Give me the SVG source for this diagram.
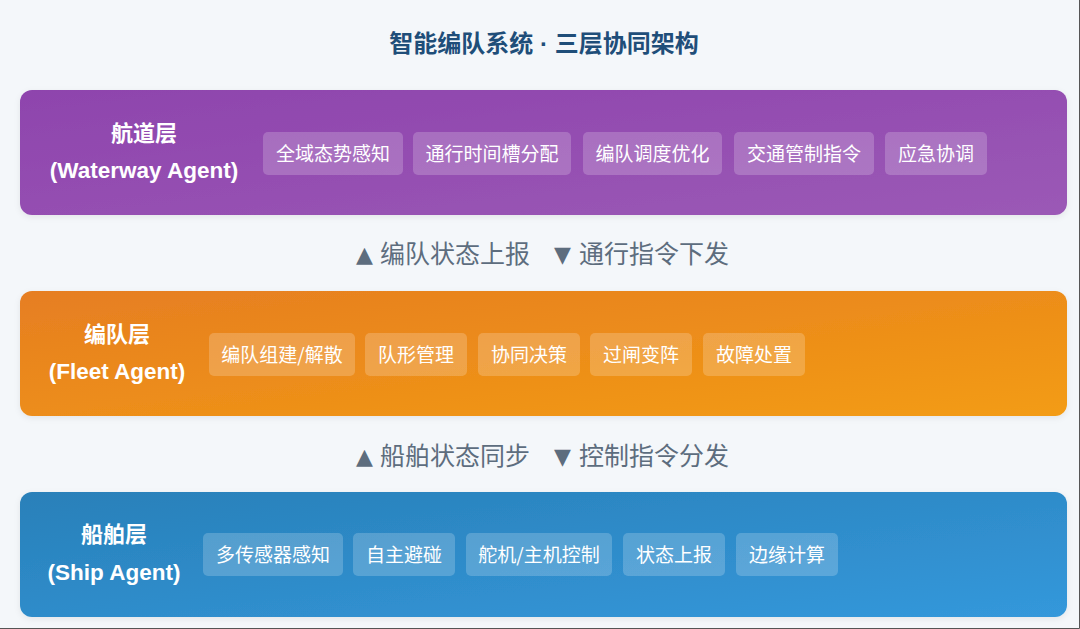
<svg xmlns="http://www.w3.org/2000/svg" width="1080" height="629" viewBox="0 0 1080 629">
<defs>
<linearGradient id="gPurple" x1="0" y1="0" x2="1" y2="1">
<stop offset="0" stop-color="#8e44ad"/><stop offset="1" stop-color="#9b59b6"/>
</linearGradient>
<linearGradient id="gOrange" x1="0" y1="0" x2="1" y2="1">
<stop offset="0" stop-color="#e67e22"/><stop offset="1" stop-color="#f39c12"/>
</linearGradient>
<linearGradient id="gBlue" x1="0" y1="0" x2="1" y2="1">
<stop offset="0" stop-color="#2980b9"/><stop offset="1" stop-color="#3498db"/>
</linearGradient>
<filter id="shadow" x="-5%" y="-10%" width="110%" height="130%">
<feDropShadow dx="0" dy="2" stdDeviation="3" flood-color="#000" flood-opacity="0.07"/>
</filter>
</defs>
<style>
.title{font-family:"Noto Sans CJK SC","Liberation Sans",sans-serif;font-weight:bold;font-size:24px;fill:#1f4e79;text-anchor:middle}
.dot{font-family:"Liberation Sans",sans-serif}
.panel{filter:url(#shadow)}
.chip{fill:#ffffff;fill-opacity:0.2}
.chipText{font-family:"Noto Sans CJK SC",sans-serif;font-size:19px;fill:#ffffff;text-anchor:middle}
.layerCn{font-family:"Noto Sans CJK SC",sans-serif;font-weight:bold;font-size:22px;fill:#ffffff;text-anchor:middle}
.layerEn{font-family:"Liberation Sans","Noto Sans CJK SC",sans-serif;font-weight:bold;font-size:22.5px;fill:#ffffff;text-anchor:middle}
.flow{font-family:"Noto Sans CJK SC",sans-serif;font-size:25px;fill:#5d6d7e}
.tri{font-family:"DejaVu Sans",sans-serif;font-size:22px;fill:#5d6d7e}
</style>
<rect x="0" y="0" width="1080" height="629" fill="#f4f7fa"/>
<text class="title" x="544" y="52">智能编队系统<tspan class="dot"> · </tspan>三层协同架构</text>

<g id="waterway-layer">
<rect class="panel" x="20" y="90" width="1047" height="125" rx="12" fill="url(#gPurple)"/>
<text class="layerCn" x="144" y="141">航道层</text>
<text class="layerEn" x="144" y="178">(Waterway Agent)</text>
<rect class="chip" x="263" y="132" width="140" height="43" rx="5"/><text class="chipText" x="333" y="161">全域态势感知</text>
<rect class="chip" x="413" y="132" width="158" height="43" rx="5"/><text class="chipText" x="492" y="161">通行时间槽分配</text>
<rect class="chip" x="583" y="132" width="139" height="43" rx="5"/><text class="chipText" x="652.5" y="161">编队调度优化</text>
<rect class="chip" x="734" y="132" width="140" height="43" rx="5"/><text class="chipText" x="804" y="161">交通管制指令</text>
<rect class="chip" x="885" y="132" width="102" height="43" rx="5"/><text class="chipText" x="936" y="161">应急协调</text>
</g>

<g id="fleet-layer">
<rect class="panel" x="20" y="291" width="1047" height="125" rx="12" fill="url(#gOrange)"/>
<text class="layerCn" x="117" y="342">编队层</text>
<text class="layerEn" x="117" y="379">(Fleet Agent)</text>
<rect class="chip" x="209" y="333" width="146" height="43" rx="5"/><text class="chipText" x="282" y="362">编队组建/解散</text>
<rect class="chip" x="365" y="333" width="102" height="43" rx="5"/><text class="chipText" x="416" y="362">队形管理</text>
<rect class="chip" x="478" y="333" width="102" height="43" rx="5"/><text class="chipText" x="529" y="362">协同决策</text>
<rect class="chip" x="590" y="333" width="102" height="43" rx="5"/><text class="chipText" x="641" y="362">过闸变阵</text>
<rect class="chip" x="703" y="333" width="102" height="43" rx="5"/><text class="chipText" x="754" y="362">故障处置</text>
</g>

<g id="ship-layer">
<rect class="panel" x="20" y="492" width="1047" height="125" rx="12" fill="url(#gBlue)"/>
<text class="layerCn" x="114" y="542">船舶层</text>
<text class="layerEn" x="114" y="580">(Ship Agent)</text>
<rect class="chip" x="203" y="533" width="140" height="43" rx="5"/><text class="chipText" x="273" y="562">多传感器感知</text>
<rect class="chip" x="353" y="533" width="102" height="43" rx="5"/><text class="chipText" x="404" y="562">自主避碰</text>
<rect class="chip" x="466" y="533" width="146" height="43" rx="5"/><text class="chipText" x="539" y="562">舵机/主机控制</text>
<rect class="chip" x="623" y="533" width="102" height="43" rx="5"/><text class="chipText" x="674" y="562">状态上报</text>
<rect class="chip" x="736" y="533" width="102" height="43" rx="5"/><text class="chipText" x="787" y="562">边缘计算</text>
</g>

<g id="connectors">
<g id="flow-waterway-fleet">
<text class="tri" x="356" y="262">▲</text>
<text class="flow" x="380" y="263">编队状态上报</text>
<text class="tri" x="554" y="262">▼</text>
<text class="flow" x="579" y="263">通行指令下发</text>
</g>
<g id="flow-fleet-ship">
<text class="tri" x="356" y="464">▲</text>
<text class="flow" x="380" y="465">船舶状态同步</text>
<text class="tri" x="554" y="464">▼</text>
<text class="flow" x="579" y="465">控制指令分发</text>
</g>
</g>
<path d="M0 628.5H1079.5V0" fill="none" stroke="#555" stroke-width="1"/>
</svg>
